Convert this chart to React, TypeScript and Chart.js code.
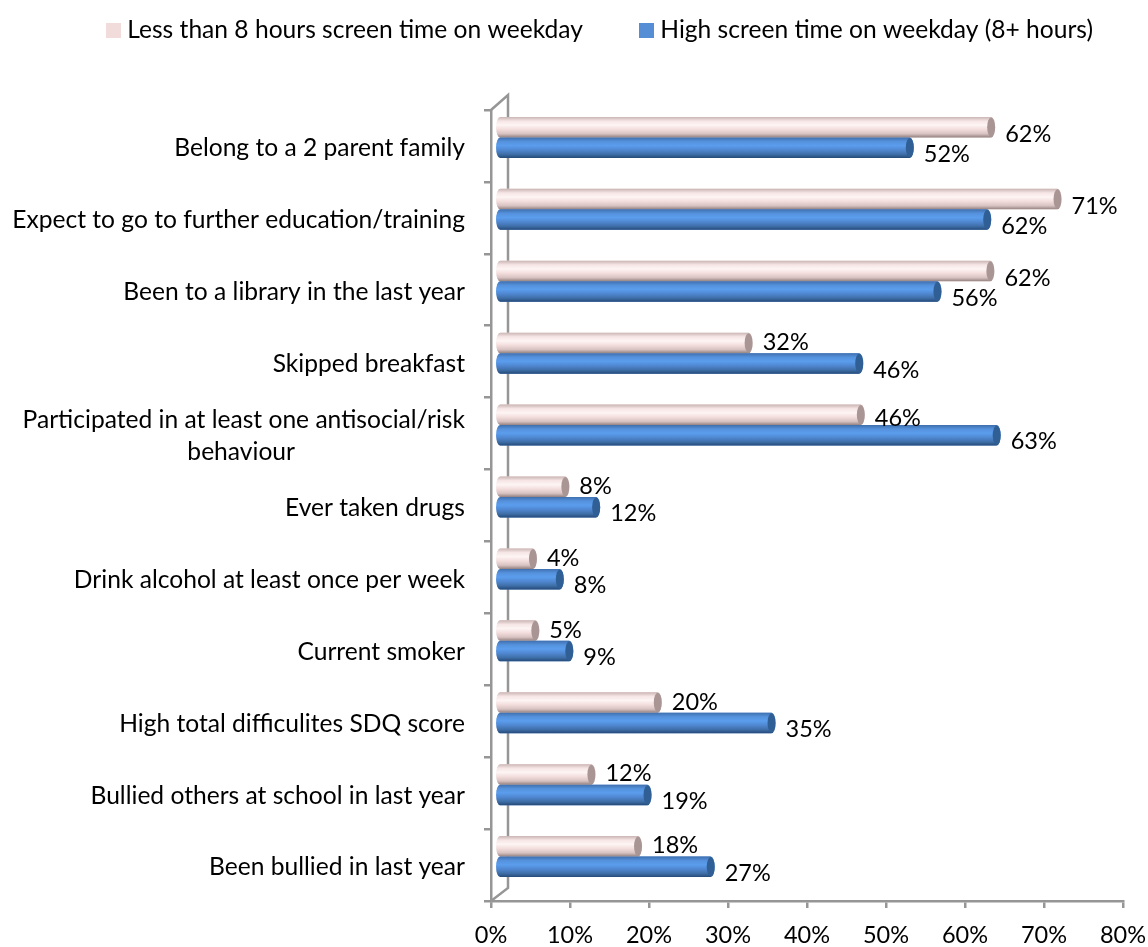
import React, { useEffect, useRef } from "react";
import { Chart, registerables } from "chart.js";

Chart.register(...registerables);

const categories: (string | string[])[] = [
  "Belong to a 2 parent family",
  "Expect to go to further education/training",
  "Been to a library in the last year",
  "Skipped breakfast",
  ["Participated in at least one antisocial/risk", "behaviour" + " ".repeat(27)],
  "Ever taken drugs",
  "Drink alcohol at least once per week",
  "Current smoker",
  "High total difficulites SDQ score",
  "Bullied others at school in last year",
  "Been bullied in last year",
];
const lowScreenValues = [62.3, 70.7, 62.2, 31.6, 45.8, 8.4, 4.3, 4.6, 20.1, 11.7, 17.6];
const highScreenValues = [52.0, 61.8, 55.5, 45.6, 63.0, 12.3, 7.7, 8.9, 34.5, 18.8, 26.8];
const lowScreenLabel = "Less than 8 hours screen time on weekday";
const highScreenLabel = "High screen time on weekday (8+ hours)";
const lowColor = "#f2dcdb";
const highColor = "#558ed5";
const FONT = "Lato, sans-serif";
const FONT_SIZE = 24.6;
const NUM_SIZE = 23.5;
const AXIS = "#969696";
const LEGEND_SHIFT = 41;

const palettes = [
  { stops: ["#c9b5b4", "#f6e6e5", "#fdf5f4", "#f2dcdb", "#d8c3c2", "#93817f"], cap: "#a89594" },
  { stops: ["#3f6fae", "#5592dd", "#5b9ded", "#4f86cf", "#3f6fa8", "#254a78"], cap: "#2f5f95" },
];

const swatch = (color: string) => {
  const c = document.createElement("canvas");
  c.width = 15;
  c.height = 15;
  const g = c.getContext("2d") as CanvasRenderingContext2D;
  g.fillStyle = color;
  g.fillRect(0, 0, 15, 15);
  return c;
};

const labelShift = (di: number, v: number) => {
  if (di === 1) return 6.5;
  if (v >= 60) return 7.5;
  if (v >= 40) return 3.5;
  return -0.5;
};

const cylinderPlugin = {
  id: "cylinder",
  beforeLayout(chart: any) {
    const legend = chart.legend;
    if (legend && !legend.__patched) {
      const fit = legend.fit;
      legend.fit = function () {
        fit.call(this);
        this.height = 110;
      };
      legend.__patched = true;
    }
  },
  afterLayout(chart: any) {
    const legend = chart.legend;
    if (legend) {
      legend.left += LEGEND_SHIFT;
      legend.right += LEGEND_SHIFT;
      legend.legendHitBoxes.forEach((b: any) => {
        b.left += LEGEND_SHIFT;
      });
    }
  },
  beforeDatasetsDraw(chart: any) {
    const { ctx, chartArea: a } = chart;
    ctx.save();
    ctx.strokeStyle = AXIS;
    ctx.lineWidth = 2.5;
    ctx.beginPath();
    ctx.moveTo(a.left, a.top);
    ctx.lineTo(a.left + 17, a.top - 15);
    ctx.lineTo(a.left + 17, a.bottom - 13);
    ctx.lineTo(a.left, a.bottom);
    ctx.stroke();
    ctx.restore();
    ctx.save();
    ctx.translate(8, -8.5);
  },
  afterDatasetsDraw(chart: any) {
    const { ctx } = chart;
    chart.data.datasets.forEach((_: any, di: number) => {
      const p = palettes[di];
      chart.getDatasetMeta(di).data.forEach((el: any) => {
        const h = el.height;
        const top = el.y - h / 2;
        const left = el.base;
        const right = el.x;
        const rx = 4;
        const g = ctx.createLinearGradient(0, top, 0, top + h);
        const pos = [0, 0.2, 0.4, 0.62, 0.82, 1];
        pos.forEach((s, i) => g.addColorStop(s, p.stops[i]));
        ctx.fillStyle = g;
        ctx.beginPath();
        ctx.ellipse(left, el.y, rx, h / 2, 0, Math.PI / 2, (Math.PI * 3) / 2);
        ctx.ellipse(right, el.y, rx, h / 2, 0, -Math.PI / 2, Math.PI / 2);
        ctx.closePath();
        ctx.fill();
        ctx.fillStyle = p.cap;
        ctx.beginPath();
        ctx.ellipse(right, el.y, rx, h / 2 - 0.5, 0, 0, Math.PI * 2);
        ctx.fill();
      });
    });
    ctx.fillStyle = "#000";
    ctx.font = `${NUM_SIZE}px ${FONT}`;
    ctx.textAlign = "left";
    ctx.textBaseline = "middle";
    chart.data.datasets.forEach((ds: any, di: number) => {
      chart.getDatasetMeta(di).data.forEach((el: any, i: number) => {
        ctx.fillText(`${Math.round(ds.data[i])}%`, el.x + 14, el.y + labelShift(di, ds.data[i]));
      });
    });
    ctx.restore();
  },
};

export default function App() {
  const ref = useRef<HTMLCanvasElement>(null);
  useEffect(() => {
    const swatches = [swatch(lowColor), swatch(highColor)];
    const chart = new Chart(ref.current as HTMLCanvasElement, {
      type: "bar",
      data: {
        labels: categories as any,
        datasets: [
          { label: lowScreenLabel, data: lowScreenValues, backgroundColor: lowColor, base: 0.13, clip: false as any },
          { label: highScreenLabel, data: highScreenValues, backgroundColor: highColor, base: 0.13, clip: false as any },
        ],
      },
      options: {
        indexAxis: "y",
        responsive: false,
        animation: false,
        layout: { padding: { left: 0, right: 25, top: 0, bottom: 0 } },
        datasets: { bar: { categoryPercentage: 0.57, barPercentage: 1 } },
        plugins: {
          tooltip: { enabled: false },
          legend: {
            position: "top",
            labels: {
              color: "#000",
              usePointStyle: true,
              pointStyleWidth: 3,
              boxHeight: 15,
              padding: 18,
              font: { family: FONT, size: FONT_SIZE },
              generateLabels(chart: any) {
                const items = Chart.defaults.plugins.legend.labels.generateLabels(chart);
                items.forEach((it: any, i: number) => {
                  it.lineWidth = 0;
                  it.pointStyle = swatches[i];
                });
                items[0].text = items[0].text + " ".repeat(7);
                return items;
              },
            },
          },
        },
        scales: {
          x: {
            min: 0,
            max: 80,
            afterFit(s: any) {
              s.height = 46;
              s.paddingLeft = 0;
              s.paddingRight = 0;
            },
            border: { color: AXIS, width: 2.5 },
            grid: { display: true, drawOnChartArea: false, drawTicks: true, tickLength: 7, color: AXIS, lineWidth: 2.5 },
            ticks: {
              stepSize: 10,
              padding: 13,
              maxRotation: 0,
              color: "#000",
              font: { family: FONT, size: NUM_SIZE },
              callback: (v: any) => `${v}%`,
            },
          },
          y: {
            afterFit(s: any) {
              s.width = 491;
              s.paddingTop = 0;
              s.paddingBottom = 0;
            },
            border: { color: AXIS, width: 2.5 },
            grid: { display: true, drawOnChartArea: false, drawTicks: true, tickLength: 7, color: AXIS, lineWidth: 2.5 },
            ticks: {
              padding: 19,
              labelOffset: 2.5,
              autoSkip: false,
              color: "#000",
              font: { family: FONT, size: FONT_SIZE, lineHeight: 1.3 },
            },
          },
        },
      } as any,
      plugins: [cylinderPlugin as any],
    });
    return () => chart.destroy();
  }, []);
  return (
    <div style={{ position: "absolute", left: 0, top: 0, width: 1148, height: 947, background: "#fff" }}>
      <canvas ref={ref} width={1148} height={947} style={{ display: "block" }} />
    </div>
  );
}
